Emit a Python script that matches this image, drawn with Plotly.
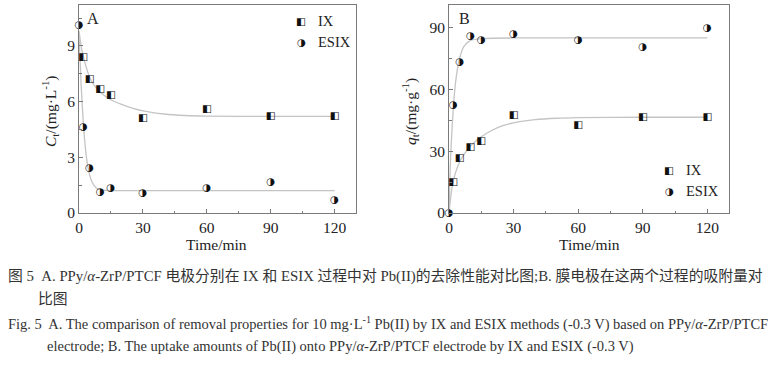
import plotly.graph_objects as go

# ---- data ----
time_pts = [0, 2, 5, 10, 15, 30, 60, 90, 120]
a_ix = [None, 8.4, 7.2, 6.65, 6.35, 5.08, 5.6, 5.2, 5.18]
a_esix = [10.1, 4.6, 2.42, 1.12, 1.3, 1.05, 1.33, 1.63, 0.7]
b_ix = [None, 14.8, 26.5, 32.1, 34.8, 47.6, 42.4, 46.5, 46.5]
b_esix = [0, 52.3, 73.1, 85.8, 84.0, 86.5, 83.7, 80.6, 89.5]

fit_a_ix_t = [0, 1, 2, 3, 5, 7, 10, 15, 20, 25, 30, 40, 50, 60, 90, 120]
fit_a_ix_v = [9.8, 9.0, 8.45, 8.0, 7.3, 6.9, 6.5, 6.1, 5.85, 5.65, 5.5, 5.33, 5.25, 5.22, 5.2, 5.2]
fit_a_es_t = [0, 1, 2, 3, 4, 5, 6, 8, 10, 15, 30, 120]
fit_a_es_v = [9.6, 6.9, 4.9, 3.5, 2.6, 2.05, 1.7, 1.36, 1.25, 1.21, 1.2, 1.2]
fit_b_ix_t = [0, 1, 2, 3, 5, 7, 10, 15, 20, 25, 30, 40, 50, 60, 90, 120]
fit_b_ix_v = [0, 9.5, 15.5, 19.5, 25.0, 28.5, 32.5, 37.0, 40.2, 42.4, 43.8, 45.3, 46.0, 46.3, 46.5, 46.5]
fit_b_es_t = [0, 0.5, 1, 2, 3, 4, 5, 7, 10, 15, 30, 120]
fit_b_es_v = [0, 20, 33, 51, 63, 70.5, 75.5, 81, 83.8, 84.7, 85, 85]

x_ticks = [0, 30, 60, 90, 120]
a_y_ticks = [0, 3, 6, 9]
b_y_ticks = [0, 30, 60, 90]

SQ = "\u25E7"   # square, left half black
CI = "\u25D1"   # circle, right half black

W, H = 777, 367
FONT = "Times New Roman, Liberation Serif, serif"
CJK = "Times New Roman, Liberation Serif, Noto Sans CJK SC, serif"
AX = "#7a7a7a"
FIT = "#c4c4c4"

fig = go.Figure()

def add_panel(xa, ya, fits, sets):
    for t, v in fits:
        fig.add_trace(go.Scatter(x=t, y=v, mode="lines", xaxis=xa, yaxis=ya,
                                 line=dict(color=FIT, width=1.3, shape="spline", smoothing=0.6),
                                 showlegend=False, hoverinfo="skip"))
    for vals, glyph in sets:
        xs = [t for t, v in zip(time_pts, vals) if v is not None]
        ys = [v for v in vals if v is not None]
        fig.add_trace(go.Scatter(x=xs, y=ys, mode="text", text=[glyph] * len(xs),
                                 textposition="middle center", xaxis=xa, yaxis=ya,
                                 textfont=dict(family="DejaVu Sans", size=10.5, color="#111"),
                                 showlegend=False, cliponaxis=False))

add_panel("x", "y", [(fit_a_ix_t, fit_a_ix_v), (fit_a_es_t, fit_a_es_v)],
          [(a_ix, SQ), (a_esix, CI)])
add_panel("x2", "y2", [(fit_b_ix_t, fit_b_ix_v), (fit_b_es_t, fit_b_es_v)],
          [(b_ix, SQ), (b_esix, CI)])

ydom = [(H - 213) / H, (H - 5) / H]

def axis(domain, rng, tickvals, mdt, anchor):
    return dict(domain=domain, range=rng, tickvals=tickvals, anchor=anchor, automargin=False,
                showline=True, mirror=True, linecolor=AX, linewidth=1, ticks="inside",
                ticklen=4, tickcolor=AX, showgrid=False, zeroline=False,
                tickfont=dict(family=FONT, size=15.5, color="#222"),
                minor=dict(ticks="inside", ticklen=2.5, tickcolor=AX, dtick=mdt, tick0=0,
                           showgrid=False))

fig.update_layout(
    width=W, height=H, margin=dict(l=0, r=0, t=0, b=0, autoexpand=False),
    paper_bgcolor="white", plot_bgcolor="white", showlegend=False,
    xaxis=axis([79 / W, 356 / W], [0, 130], x_ticks, 15, "y"),
    yaxis=axis(ydom, [0, 11.2], a_y_ticks, 1.5, "x"),
    xaxis2=axis([449 / W, 729 / W], [0, 130], x_ticks, 15, "y2"),
    yaxis2=axis(ydom, [0, 101], b_y_ticks, 15, "x2"),
)

def px_ann(x, y, text, size=15, xanchor="center", color="#222", family=FONT, angle=0):
    fig.add_annotation(x=x / W, y=1 - y / H, xref="paper", yref="paper", text=text,
                       showarrow=False, xanchor=xanchor, yanchor="middle", textangle=angle,
                       font=dict(family=family, size=size, color=color))

# axis titles
px_ann(217, 244, "Time/min", size=15.5)
px_ann(589, 244, "Time/min", size=15.5)
px_ann(50, 112, "<i>C</i><sub>t</sub>/(mg·L<sup>-1</sup>)", size=15.5, angle=-90)
px_ann(410, 112, "<i>q</i><sub>t</sub>/(mg·g<sup>-1</sup>)", size=15.5, angle=-90)

# panel labels
px_ann(93, 18, "A", size=16)
px_ann(464, 18, "B", size=16)

# legends
for (mx, my, glyph, label) in [(301, 21, SQ, "IX"), (301, 42, CI, "ESIX"),
                               (669, 170, SQ, "IX"), (669, 191, CI, "ESIX")]:
    px_ann(mx, my, glyph, size=10.5, family="DejaVu Sans", color="#111")
    px_ann(mx + 15, my, label, size=14.5, xanchor="left")

# caption
CAP = "#333"
px_ann(6, 276, "图 5  A. PPy/<i>α</i>-ZrP/PTCF 电极分别在 IX 和 ESIX 过程中对 Pb(II)的去除性能对比图;B. 膜电极在这两个过程的吸附量对",
       size=14.8, xanchor="left", color=CAP, family=CJK)
px_ann(36, 299, "比图", size=14.8, xanchor="left", color=CAP, family=CJK)
px_ann(6, 323, "Fig. 5  A. The comparison of removal properties for 10 mg·L<sup>-1</sup> Pb(II) by IX and ESIX methods (-0.3 V) based on PPy/<i>α</i>-ZrP/PTCF",
       size=14.5, xanchor="left", color=CAP)
px_ann(45, 346, "electrode; B. The uptake amounts of Pb(II) onto PPy/<i>α</i>-ZrP/PTCF electrode by IX and ESIX (-0.3 V)",
       size=14.5, xanchor="left", color=CAP)

fig.write_html("out.html", config={"displayModeBar": False},
               post_script="document.body.style.margin='0';document.body.style.overflow='hidden';")
